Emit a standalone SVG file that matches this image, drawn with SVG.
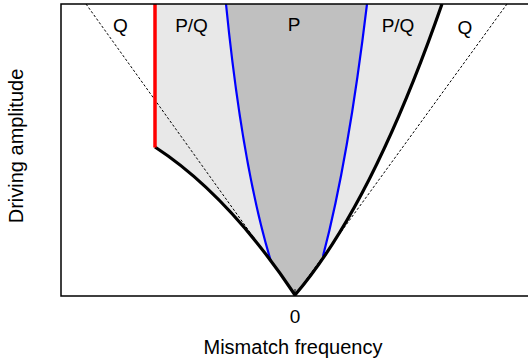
<svg xmlns="http://www.w3.org/2000/svg" width="528" height="363" viewBox="0 0 528 363">
<style>
text{font-family:"Liberation Sans",Arial,sans-serif;font-size:19px;fill:#000;text-anchor:middle}
.title{font-size:20px}
.dash{fill:none;stroke:#000;stroke-width:1;stroke-dasharray:2.5,2}
.blue{fill:none;stroke:#0000ff;stroke-width:2.2}
.blk{fill:none;stroke:#000;stroke-width:3.2;stroke-linejoin:round}
</style>
<rect x="0" y="0" width="528" height="363" fill="#fff"/>
<defs><clipPath id="plot"><rect x="61" y="4" width="470" height="292"/></clipPath></defs>
<g id="regions" clip-path="url(#plot)">
<path id="pq-region" d="M155,4 L155,147 Q227.9,194.4 295,295 Q372,205 442,4 Z" fill="#e8e8e8"/>
<path id="p-region" d="M226,4 Q242.2,166.3 270.7,260.5 L295,295 L323,256 Q348.3,160 367,4 Z" fill="#c0c0c0"/>
</g>
<g id="connectors" clip-path="url(#plot)">
<path class="dash" d="M86,4 L295,295"/>
<path class="dash" d="M507,4 L295,295"/>
<path class="blue" d="M226,4 Q242.2,166.3 270.7,260.5"/>
<path class="blue" d="M367,4 Q348.3,160 323,256"/>
<path class="blk" d="M155,147 Q227.9,194.4 295,295 Q372,205 442,4"/>
<path d="M155,4 V147.5" stroke="#ff0000" stroke-width="3.5" fill="none"/>
</g>
<g id="axes">
<path d="M530,4 H61 V296 H530" fill="none" stroke="#000" stroke-width="1.5"/>
<path d="M295,289 V296" stroke="#000" stroke-width="1"/>
</g>
<g id="labels">
<text x="120.5" y="31.5">Q</text>
<text x="191.5" y="31.5">P/Q</text>
<text x="294" y="31">P</text>
<text x="398" y="31.5">P/Q</text>
<text x="465" y="34">Q</text>
<text x="295" y="322.5">0</text>
<text class="title" x="293" y="354">Mismatch frequency</text>
<text class="title" transform="translate(23,146) rotate(-90)">Driving amplitude</text>
</g>
</svg>
